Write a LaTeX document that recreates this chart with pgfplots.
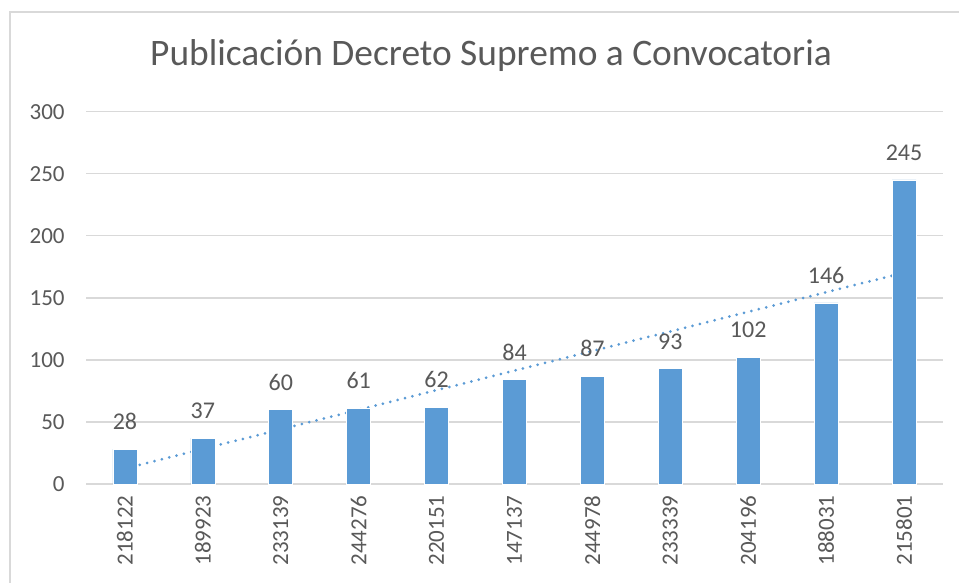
\documentclass[border=0pt]{standalone}
\usepackage{pgfplots}
\pgfplotsset{compat=1.18}
\usepackage{fontspec}
\setmainfont{Carlito}
\definecolor{barblue}{HTML}{5B9BD5}
\definecolor{txtgray}{HTML}{595959}
\definecolor{gridgray}{HTML}{D9D9D9}
\begin{document}
\begin{tikzpicture}
\useasboundingbox (0,0) rectangle (479.5pt,291.5pt);
\fill[white] (0,0) rectangle (479.5pt,291.5pt);
\draw[gridgray, line width=0.8pt] (5pt,0) -- (5pt,285.5pt) -- (479.5pt,285.5pt);
\node[anchor=base, text=txtgray, font=\fontsize{18.7}{22}\selectfont, inner sep=0pt] at (245.5pt,258.5pt) {Publicación Decreto Supremo a Convocatoria};
\begin{axis}[
  at={(43pt,49.5pt)}, anchor=south west,
  scale only axis, width=428.5pt, height=186.15pt,
  xmin=-0.5, xmax=10.5, ymin=0, ymax=300,
  axis line style={draw=none},
  axis x line*=bottom,
  ytick={0,50,...,300},
  xtick={0,...,10},
  xticklabels={218122,189923,233139,244276,220151,147137,244978,233339,204196,188031,215801},
  major tick length=0pt,
  ymajorgrids, grid style={gridgray, line width=0.7pt},
  tick label style={text=txtgray, font=\fontsize{11.5}{13}\selectfont},
  /pgf/number format/assume math mode=true,
  yticklabel style={anchor=east, inner sep=0pt, xshift=-10.5pt},
  xticklabel style={yshift=-5.5pt, rotate=90, anchor=east, inner sep=0pt},
  clip=false,
]
\draw[gridgray, line width=0.8pt] (axis cs:-0.5,0) -- (axis cs:10.5,0);
\addplot[barblue, line width=1.5pt, line cap=round, dash pattern=on 0pt off 3.8pt] coordinates {(0,12.45) (10,170.3)};
\addplot[ybar, bar width=12pt, fill=barblue, draw=white, line width=0.3pt,
  nodes near coords, every node near coord/.style={text=txtgray, font=\fontsize{12}{14}\selectfont, anchor=south, inner sep=0pt, yshift=9.5pt}]
  coordinates {(0,28) (1,37) (2,60) (3,61) (4,62) (5,84) (6,87) (7,93) (8,102) (9,146) (10,245)};
\end{axis}
\end{tikzpicture}
\end{document}
